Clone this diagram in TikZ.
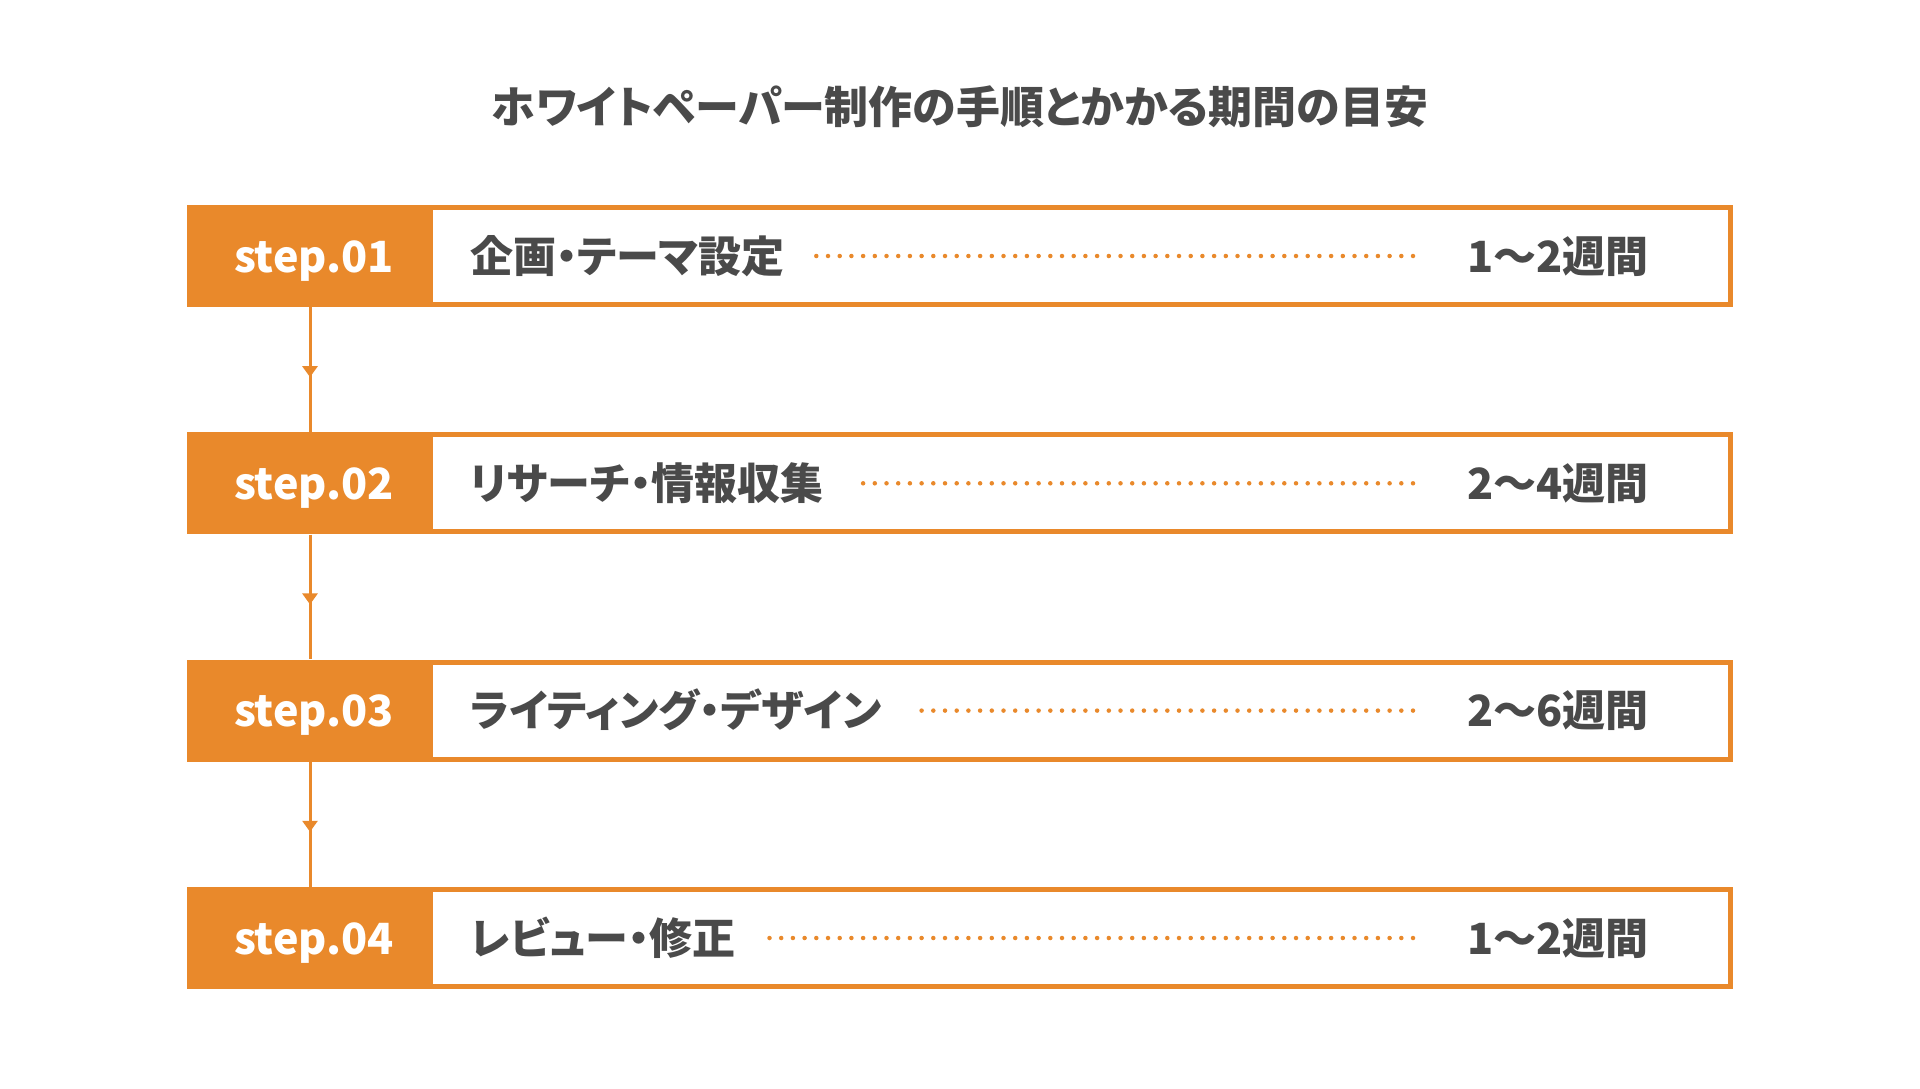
\documentclass[tikz,border=0pt]{standalone}
\usepackage{fontspec}
\usetikzlibrary{arrows.meta,decorations.markings,calc}
\newfontfamily\jpfont{Noto Sans CJK JP}[RawFeature=+palt]
\definecolor{orng}{HTML}{E9892B}
\definecolor{txtgray}{HTML}{4A4A4A}
\tikzset{
  stepfill/.style={fill=orng,draw=none,minimum width=246pt,minimum height=102pt,inner sep=0pt},
  rowbox/.style={draw=orng,line width=5pt,fill=white,minimum width=1541pt,minimum height=97pt,inner sep=0pt},
  steptext/.style={anchor=base,text=white,font=\jpfont\bfseries\fontsize{43}{43}\selectfont,inner sep=0pt},
  maintext/.style={anchor=base west,text=txtgray,font=\jpfont\bfseries\fontsize{43}{43}\selectfont,inner sep=0pt},
  durtext/.style={anchor=base west,text=txtgray,font=\jpfont\bfseries\fontsize{43}{43}\selectfont,inner sep=0pt},
  dotline/.style={draw=orng,line width=4.5pt,line cap=round,dash pattern=on 0pt off 11.7pt},
  flow/.style={draw=orng,line width=3pt,postaction={decorate},
    decoration={markings,mark=at position 0.56 with {\arrow{Triangle[width=15pt,length=11pt]}}}},
}
\begin{document}
\begin{tikzpicture}[x=1pt,y=-1pt]
\useasboundingbox (0,0) rectangle (1920,1089);
\fill[white] (0,0) rectangle (1920,1089);
\node[anchor=base,text=txtgray,font=\jpfont\bfseries\fontsize{44}{44}\selectfont,inner sep=0pt] (title) at (960,124) {ホワイトペーパー制作の手順とかかる期間の目安};
% rows
\foreach \i/\yc/\lab/\txt/\dur in {
  1/256/step.01/企画・テーマ設定/1～2週間,
  2/483.3/step.02/リサーチ・情報収集/2～4週間,
  3/710.6/step.03/ライティング・デザイン/2～6週間,
  4/938/step.04/レビュー・修正/1～2週間}{
  \node[rowbox] (b\i) at (960,\yc) {};
  \node[stepfill] (s\i) at (310,\yc) {};
  \node[steptext] (l\i) at (314,\yc+16) {\lab};
  \node[maintext] (t\i) at (470,\yc+16) {\txt};
  \node[durtext] (d\i) at (1467,\yc+16) {\dur};
  \draw[dotline] ([xshift=-54pt]d\i.west |- b\i.center) -- ([xshift=30pt]t\i.east |- b\i.center);
}
\draw[flow] (s1.south) -- (s2.north);
\draw[flow] (s2.south) -- (s3.north);
\draw[flow] (s3.south) -- (s4.north);
\end{tikzpicture}
\end{document}
